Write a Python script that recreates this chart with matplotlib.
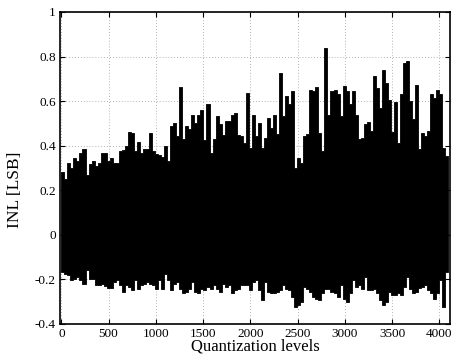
import numpy as np
import matplotlib
matplotlib.use("Agg")
import matplotlib.pyplot as plt

# INL envelope, one value per bin of 32 quantization levels
bin_width = 32
inl_upper = [
    0.280, 0.250, 0.321, 0.302, 0.347, 0.330, 0.366, 0.384, 0.268, 0.317,
    0.332, 0.310, 0.324, 0.369, 0.366, 0.332, 0.347, 0.324, 0.324, 0.376,
    0.381, 0.399, 0.461, 0.458, 0.376, 0.417, 0.369, 0.384, 0.384, 0.458,
    0.376, 0.362, 0.357, 0.351, 0.399, 0.332, 0.488, 0.503, 0.443, 0.664,
    0.429, 0.488, 0.473, 0.536, 0.500, 0.540, 0.562, 0.426, 0.585, 0.369,
    0.432, 0.533, 0.496, 0.446, 0.510, 0.510, 0.540, 0.548, 0.446, 0.443,
    0.414, 0.637, 0.390, 0.536, 0.443, 0.503, 0.390, 0.436, 0.525, 0.481,
    0.540, 0.451, 0.726, 0.533, 0.625, 0.585, 0.644, 0.302, 0.347, 0.324,
    0.443, 0.451, 0.652, 0.644, 0.664, 0.458, 0.376, 0.838, 0.540, 0.644,
    0.649, 0.632, 0.533, 0.667, 0.644, 0.589, 0.644, 0.540, 0.429, 0.436,
    0.496, 0.506, 0.466, 0.711, 0.659, 0.570, 0.741, 0.682, 0.607, 0.461,
    0.595, 0.414, 0.634, 0.771, 0.778, 0.600, 0.518, 0.674, 0.384, 0.455,
    0.443, 0.466, 0.634, 0.615, 0.652, 0.634, 0.388, 0.354,
]
inl_lower = [
    -0.167, -0.174, -0.182, -0.204, -0.196, -0.189, -0.204, -0.219, -0.159, -0.196,
    -0.196, -0.226, -0.226, -0.219, -0.229, -0.238, -0.238, -0.211, -0.204, -0.226,
    -0.256, -0.226, -0.234, -0.249, -0.204, -0.241, -0.226, -0.219, -0.211, -0.219,
    -0.226, -0.241, -0.204, -0.241, -0.174, -0.204, -0.249, -0.219, -0.211, -0.241,
    -0.263, -0.256, -0.241, -0.211, -0.256, -0.263, -0.241, -0.249, -0.234, -0.241,
    -0.226, -0.241, -0.256, -0.219, -0.234, -0.226, -0.263, -0.249, -0.241, -0.226,
    -0.226, -0.226, -0.249, -0.211, -0.204, -0.249, -0.293, -0.211, -0.256, -0.263,
    -0.263, -0.256, -0.249, -0.226, -0.241, -0.249, -0.278, -0.323, -0.315, -0.301,
    -0.234, -0.241, -0.256, -0.278, -0.286, -0.293, -0.263, -0.241, -0.241, -0.256,
    -0.263, -0.278, -0.226, -0.286, -0.301, -0.263, -0.204, -0.234, -0.226, -0.241,
    -0.189, -0.249, -0.249, -0.241, -0.263, -0.293, -0.315, -0.301, -0.256, -0.271,
    -0.271, -0.263, -0.271, -0.234, -0.189, -0.241, -0.263, -0.256, -0.238, -0.234,
    -0.226, -0.249, -0.263, -0.286, -0.263, -0.204, -0.323, -0.167,
]
x_ticks = [0, 500, 1000, 1500, 2000, 2500, 3000, 3500, 4000]
y_ticks = [-0.4, -0.2, 0, 0.2, 0.4, 0.6, 0.8, 1]
y_tick_labels = ["-0.4", "-0.2", "0", "0.2", "0.4", "0.6", "0.8", "1"]

plt.rcParams["font.family"] = ["Liberation Serif", "DejaVu Serif"]

fig = plt.figure(figsize=(4.52, 3.6), dpi=100)
ax = fig.add_axes([60 / 452, 36 / 360, 390.5 / 452, 312 / 360])

edges = np.arange(len(inl_upper) + 1) * bin_width
edges[-1] = 4095
up = np.append(inl_upper, inl_upper[-1])
lo = np.append(inl_lower, inl_lower[-1])
ax.fill_between(edges, lo, up, step="post", facecolor="black",
                edgecolor="black", linewidth=0.6, zorder=3)

ax.set_xlim(-14, 4118)
ax.set_ylim(-0.4, 1)
ax.set_xticks(x_ticks)
ax.set_xticklabels([str(t) for t in x_ticks])
ax.set_yticks(y_ticks)
ax.set_yticklabels(y_tick_labels)

ax.grid(True, linestyle=(0, (1, 2.5)), color="#999999", linewidth=0.6)
ax.set_axisbelow(True)
ax.tick_params(direction="in", top=True, right=True, length=3.5, width=0.8,
               labelsize=9.5, pad=3, colors="black")
for s in ax.spines.values():
    s.set_linewidth(1.2)

ax.set_xlabel("Quantization levels", fontsize=12, labelpad=-1)
ax.set_ylabel("INL [LSB]", fontsize=12.5, labelpad=4)
ax.yaxis.set_label_coords(-0.095, 0.43)

fig.savefig("out.png", dpi=100)
